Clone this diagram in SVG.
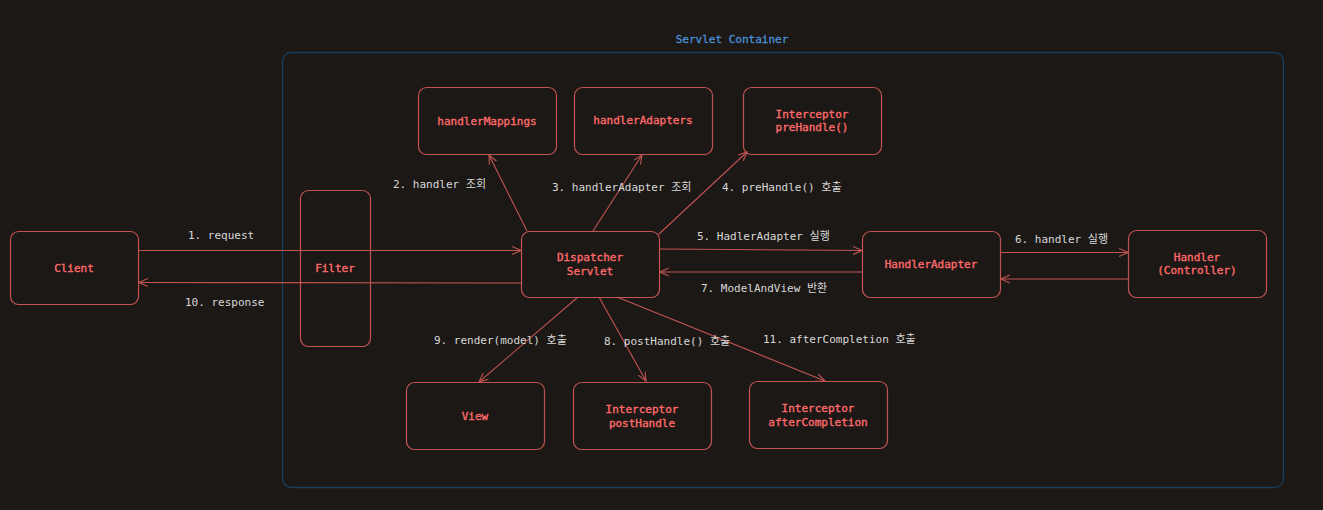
<svg xmlns="http://www.w3.org/2000/svg" width="1323" height="510" viewBox="0 0 1323 510">
<defs>
<style>
.bg{fill:#1c1816}
.node rect{fill:#1c1816;stroke:#c25452;stroke-width:1.2}
.node text{fill:#ff6b6b;stroke:#ff6b6b;stroke-width:0.35;font-family:"DejaVu Sans Mono","Noto Sans CJK KR",monospace;font-size:11px;text-anchor:middle}
.edges line{stroke:#c25452;stroke-width:1.1;marker-end:url(#ah)}
.lbl{fill:#d8d8d8;font-family:"DejaVu Sans Mono","Noto Sans CJK KR",monospace;font-size:11px}
.title{fill:#4a8fd6;stroke:#4a8fd6;stroke-width:0.3;font-family:"DejaVu Sans Mono",monospace;font-size:11px;text-anchor:middle}
</style>
<marker id="ah" viewBox="0 0 10 10" refX="9" refY="5" markerWidth="10" markerHeight="10" markerUnits="userSpaceOnUse" orient="auto">
<path d="M0,1 L9,5 L0,9" fill="none" stroke="#c25452" stroke-width="1.1"/>
</marker>
</defs>
<rect class="bg" x="0" y="0" width="1323" height="510"/>
<g id="container">
<rect x="282.5" y="52.5" width="1001" height="435" rx="9" fill="none" stroke="#16405f" stroke-width="1.3"/>
<text class="title" x="732" y="43">Servlet Container</text>
</g>
<g id="client" class="node"><rect x="10.5" y="231.5" width="128" height="73" rx="8"/><text x="74" y="272">Client</text></g>
<g id="filter" class="node"><rect x="300.5" y="190.5" width="70" height="156" rx="8"/><text x="335" y="272">Filter</text></g>
<g id="handlerMappings" class="node"><rect x="418.5" y="87.5" width="138" height="67" rx="8"/><text x="487" y="125">handlerMappings</text></g>
<g id="handlerAdapters" class="node"><rect x="574.5" y="87.5" width="138" height="67" rx="8"/><text x="643" y="124">handlerAdapters</text></g>
<g id="preHandle" class="node"><rect x="743.5" y="87.5" width="138" height="67" rx="8"/><text x="812" y="118">Interceptor</text><text x="812" y="131">preHandle()</text></g>
<g id="dispatcher" class="node"><rect x="521.5" y="231.5" width="138" height="66" rx="8"/><text x="590" y="261">Dispatcher</text><text x="590" y="275">Servlet</text></g>
<g id="handlerAdapter" class="node"><rect x="862.5" y="231.5" width="138" height="66" rx="8"/><text x="931" y="268">HandlerAdapter</text></g>
<g id="handler" class="node"><rect x="1128.5" y="230.5" width="138" height="67" rx="8"/><text x="1197" y="261">Handler</text><text x="1197" y="274">(Controller)</text></g>
<g id="view" class="node"><rect x="406.5" y="382.5" width="138" height="67" rx="8"/><text x="475" y="420">View</text></g>
<g id="postHandle" class="node"><rect x="573.5" y="382.5" width="138" height="67" rx="8"/><text x="642" y="413">Interceptor</text><text x="642" y="427">postHandle</text></g>
<g id="afterCompletion" class="node"><rect x="749.5" y="381.5" width="138" height="67" rx="8"/><text x="818" y="412">Interceptor</text><text x="818" y="426">afterCompletion</text></g>
<g id="edges" class="edges">
<line x1="138" y1="250.5" x2="521" y2="250.5"/>
<line x1="521" y1="283" x2="139" y2="282.5"/>
<line x1="527" y1="231" x2="489" y2="155"/>
<line x1="593" y1="231" x2="642" y2="155"/>
<line x1="659" y1="234" x2="747" y2="152"/>
<line x1="659" y1="249" x2="862" y2="250.5"/>
<line x1="862" y1="272" x2="660" y2="272"/>
<line x1="1000" y1="252.5" x2="1128" y2="252.5"/>
<line x1="1128" y1="279" x2="1001" y2="279"/>
<line x1="578" y1="297" x2="479" y2="382"/>
<line x1="599" y1="297" x2="646" y2="381"/>
<line x1="617" y1="297" x2="825" y2="381"/>
</g>
<g id="labels">
<text class="lbl" x="188" y="239">1. request</text>
<text class="lbl" x="185" y="306">10. response</text>
<text class="lbl" x="393" y="188">2. handler 조회</text>
<text class="lbl" x="552" y="191">3. handlerAdapter 조회</text>
<text class="lbl" x="722" y="191">4. preHandle() 호출</text>
<text class="lbl" x="697" y="240">5. HadlerAdapter 실행</text>
<text class="lbl" x="701" y="292">7. ModelAndView 반환</text>
<text class="lbl" x="1015" y="243">6. handler 실행</text>
<text class="lbl" x="434" y="344">9. render(model) 호출</text>
<text class="lbl" x="604" y="345">8. postHandle() 호출</text>
<text class="lbl" x="763" y="343">11. afterCompletion 호출</text>
</g>
</svg>
